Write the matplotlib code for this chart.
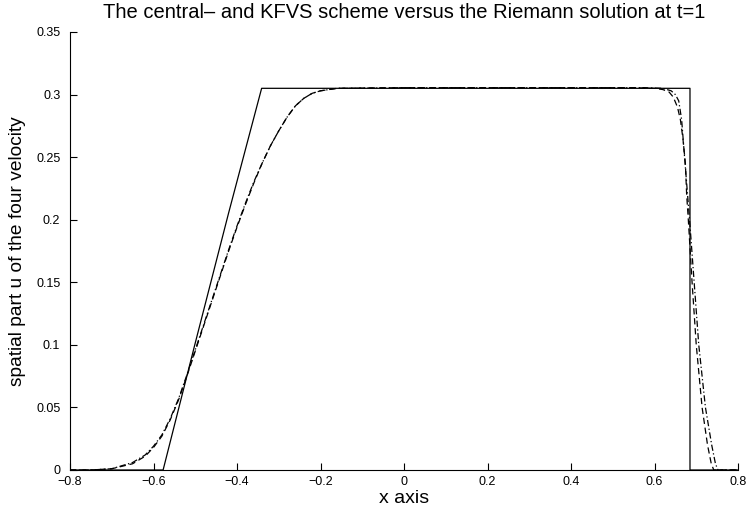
import matplotlib
matplotlib.use("Agg")
import matplotlib.pyplot as plt

plt.rcParams['font.family'] = ['Liberation Sans', 'DejaVu Sans']

# Exact Riemann solution
x_exact = [-0.8, -0.577, -0.50, -0.42, -0.341, 0.685, 0.685, 0.8]
u_exact = [0.0, 0.0, 0.1015, 0.2055, 0.305, 0.305, 0.0, 0.0]

# Scheme 1 (dashed)
x_s1 = [-0.80, -0.75, -0.70, -0.65, -0.62, -0.60, -0.58, -0.56, -0.54, -0.52, -0.50,
        -0.48, -0.46, -0.44, -0.42, -0.40, -0.38, -0.36, -0.34, -0.32, -0.30, -0.28,
        -0.26, -0.24, -0.22, -0.20, -0.18, -0.16, 0.0, 0.55, 0.60, 0.62, 0.635, 0.645,
        0.655, 0.662, 0.668, 0.674, 0.677, 0.681, 0.690, 0.700, 0.714, 0.727, 0.736,
        0.742, 0.8]
u_s1 = [0.0, 0.0, 0.001, 0.005, 0.011, 0.018, 0.027, 0.040, 0.056, 0.075, 0.095,
        0.115, 0.135, 0.155, 0.175, 0.194, 0.212, 0.229, 0.245, 0.259, 0.271, 0.282,
        0.291, 0.297, 0.301, 0.303, 0.304, 0.305, 0.3055, 0.3055, 0.305, 0.304, 0.302, 0.298,
        0.290, 0.280, 0.265, 0.245, 0.220, 0.200, 0.150, 0.100, 0.050, 0.020, 0.005,
        0.0, 0.0]

# Scheme 2 (dash-dot)
x_s2 = [-0.80, -0.75, -0.70, -0.65, -0.62, -0.60, -0.58, -0.56, -0.54, -0.52, -0.50,
        -0.48, -0.46, -0.44, -0.42, -0.40, -0.38, -0.36, -0.34, -0.32, -0.30, -0.28,
        -0.26, -0.24, -0.22, -0.20, -0.18, -0.16, 0.0, 0.58, 0.62, 0.64, 0.65, 0.658,
        0.665, 0.672, 0.678, 0.684, 0.695, 0.706, 0.722, 0.737, 0.746, 0.752, 0.8]
u_s2 = [0.0, 0.0, 0.001, 0.006, 0.012, 0.019, 0.028, 0.041, 0.057, 0.076, 0.096,
        0.116, 0.136, 0.156, 0.176, 0.195, 0.213, 0.230, 0.245, 0.259, 0.271, 0.282,
        0.291, 0.297, 0.301, 0.303, 0.304, 0.305, 0.3055, 0.3055, 0.305, 0.303, 0.300, 0.295,
        0.280, 0.250, 0.225, 0.200, 0.150, 0.100, 0.050, 0.020, 0.005, 0.0, 0.0]

x_ticks = [-0.8, -0.6, -0.4, -0.2, 0, 0.2, 0.4, 0.6, 0.8]
x_ticklabels = ['−0.8', '−0.6', '−0.4', '−0.2', '0', '0.2', '0.4', '0.6', '0.8']
y_ticks = [0, 0.05, 0.1, 0.15, 0.2, 0.25, 0.3, 0.35]
y_ticklabels = ['0', '0.05', '0.1', '0.15', '0.2', '0.25', '0.3', '0.35']

fig = plt.figure(figsize=(7.53, 5.12), dpi=100)
ax = fig.add_axes([70/753, 42/512, 668/753, 438/512])

ax.plot(x_exact, u_exact, color='black', linestyle='-', linewidth=0.9)
ax.plot(x_s1, u_s1, color='black', linestyle=(0, (5, 3)), linewidth=0.9)
ax.plot(x_s2, u_s2, color='black', linestyle=(0, (5, 2, 1, 2)), linewidth=0.9)

ax.set_xlim(-0.8, 0.8)
ax.set_ylim(0, 0.35)
ax.set_xticks(x_ticks)
ax.set_xticklabels(x_ticklabels)
ax.set_yticks(y_ticks)
ax.set_yticklabels(y_ticklabels)
ax.tick_params(direction='in', length=5, width=0.8, labelsize=9)
ax.tick_params(axis='y', pad=7)
ax.tick_params(axis='x', pad=4.5)
for s in ['top', 'right']:
    ax.spines[s].set_visible(False)
for s in ['left', 'bottom']:
    ax.spines[s].set_linewidth(0.8)

ax.set_xlabel('x axis', fontsize=14)
ax.xaxis.set_label_coords(0.5, -0.045)
ax.set_ylabel('spatial part u of the four velocity', fontsize=13.8)
ax.yaxis.set_label_coords(-0.066, 0.5)
ax.set_title('The central– and KFVS scheme versus the Riemann solution at t=1', fontsize=14.5, pad=10)

fig.savefig('out.png', dpi=100)
